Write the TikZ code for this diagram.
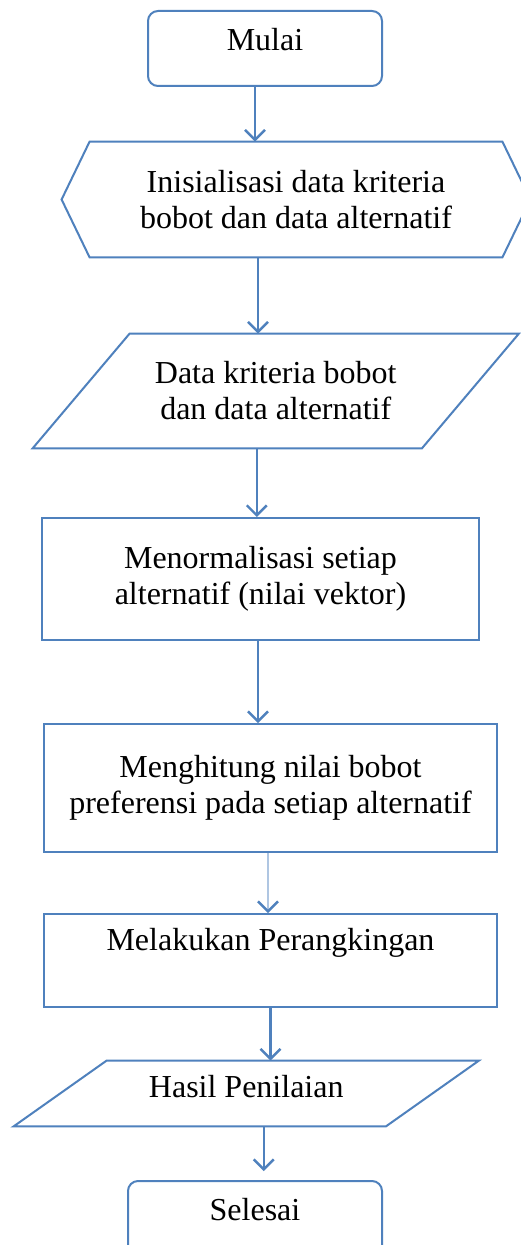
\documentclass[tikz,border=0pt]{standalone}
\usepackage{fontspec}
\setmainfont{Liberation Serif}
\usetikzlibrary{arrows.meta}

\definecolor{flowblue}{RGB}{79,129,189}
\definecolor{flowpale}{RGB}{175,198,226}

\begin{document}
\begin{tikzpicture}[x=0.5pt,y=-0.5pt,>={Straight Barb[length=5pt,width=10pt]},
  font=\fontsize{16pt}{18pt}\selectfont,
  outline/.style={draw=flowblue,line width=1pt},
  terminal/.style={outline,rounded corners=5pt,minimum width=#1,minimum height=37.5pt,text height=10pt},
  process/.style={outline,minimum width=226.5pt,align=center},
  body/.style={align=center},
  flow/.style={->,draw=flowblue,line width=1.2pt}]
\useasboundingbox[fill=white] (0,0) rectangle (520,1245);

\node[terminal=117pt,text depth=7.5pt] (mulai) at (265,48.5) {Mulai};

% hexagon: body node, pointed ends drawn from its anchors
\node[body,minimum width=206pt,minimum height=57.5pt] (init) at (296,199.5) {Inisialisasi data kriteria\\bobot dan data alternatif};
\draw[outline] (init.north west) -- (init.north east) -- ([xshift=14pt]init.east) -- (init.south east)
  -- (init.south west) -- ([xshift=-14pt]init.west) -- cycle;

% parallelograms: body node is the mid-height band
\node[body,minimum width=194.25pt,minimum height=57pt] (data) at (275.75,391) {Data kriteria bobot\\dan data alternatif};
\draw[outline] ([xshift=24.25pt]data.north west) -- ([xshift=24.25pt]data.north east)
  -- ([xshift=-24.25pt]data.south east) -- ([xshift=-24.25pt]data.south west) -- cycle;

\node[process,minimum width=218.5pt,minimum height=61pt] (norm) at (260.5,579) {Menormalisasi setiap\\alternatif (nilai vektor)};
\node[process,minimum height=64pt] (bobot) at (270.5,788) {Menghitung nilai bobot\\preferensi pada setiap alternatif};
\node[process,minimum height=46.5pt,text height=10pt,text depth=20pt] (rank) at (270.5,960.5) {Melakukan Perangkingan};

\node[body,minimum width=185.75pt,minimum height=32.5pt,text height=10pt,text depth=6.5pt] (hasil) at (246.25,1093.5) {Hasil Penilaian};
\draw[outline] ([xshift=23.25pt]hasil.north west) -- ([xshift=23.25pt]hasil.north east)
  -- ([xshift=-23.25pt]hasil.south east) -- ([xshift=-23.25pt]hasil.south west) -- cycle;

\node[terminal=127pt,text depth=8.5pt] (selesai) at (255,1218.5) {Selesai};

\draw[flow] ([xshift=-5pt]mulai.south) -- ([xshift=-5pt]mulai.south |- init.north);
\draw[flow] ([xshift=-19pt]init.south) -- ([xshift=-19pt]init.south |- data.north);
\draw[flow] ([xshift=-9.5pt]data.south) -- ([xshift=-9.5pt]data.south |- norm.north);
\draw[flow] ([xshift=-1.25pt]norm.south) -- ([xshift=-1.25pt]norm.south |- bobot.north);
\draw[flow,draw=flowpale,-{Straight Barb[length=5pt,width=10pt,color=flowblue]}] ([xshift=-1.25pt]bobot.south) -- ([xshift=-1.25pt]bobot.south |- rank.north);
\draw[flow] (rank.south) -- (rank.south |- hasil.north);
\draw[flow,shorten >=4.5pt] ([xshift=8.75pt]hasil.south) -- ([xshift=8.75pt]hasil.south |- selesai.north);
\end{tikzpicture}
\end{document}
